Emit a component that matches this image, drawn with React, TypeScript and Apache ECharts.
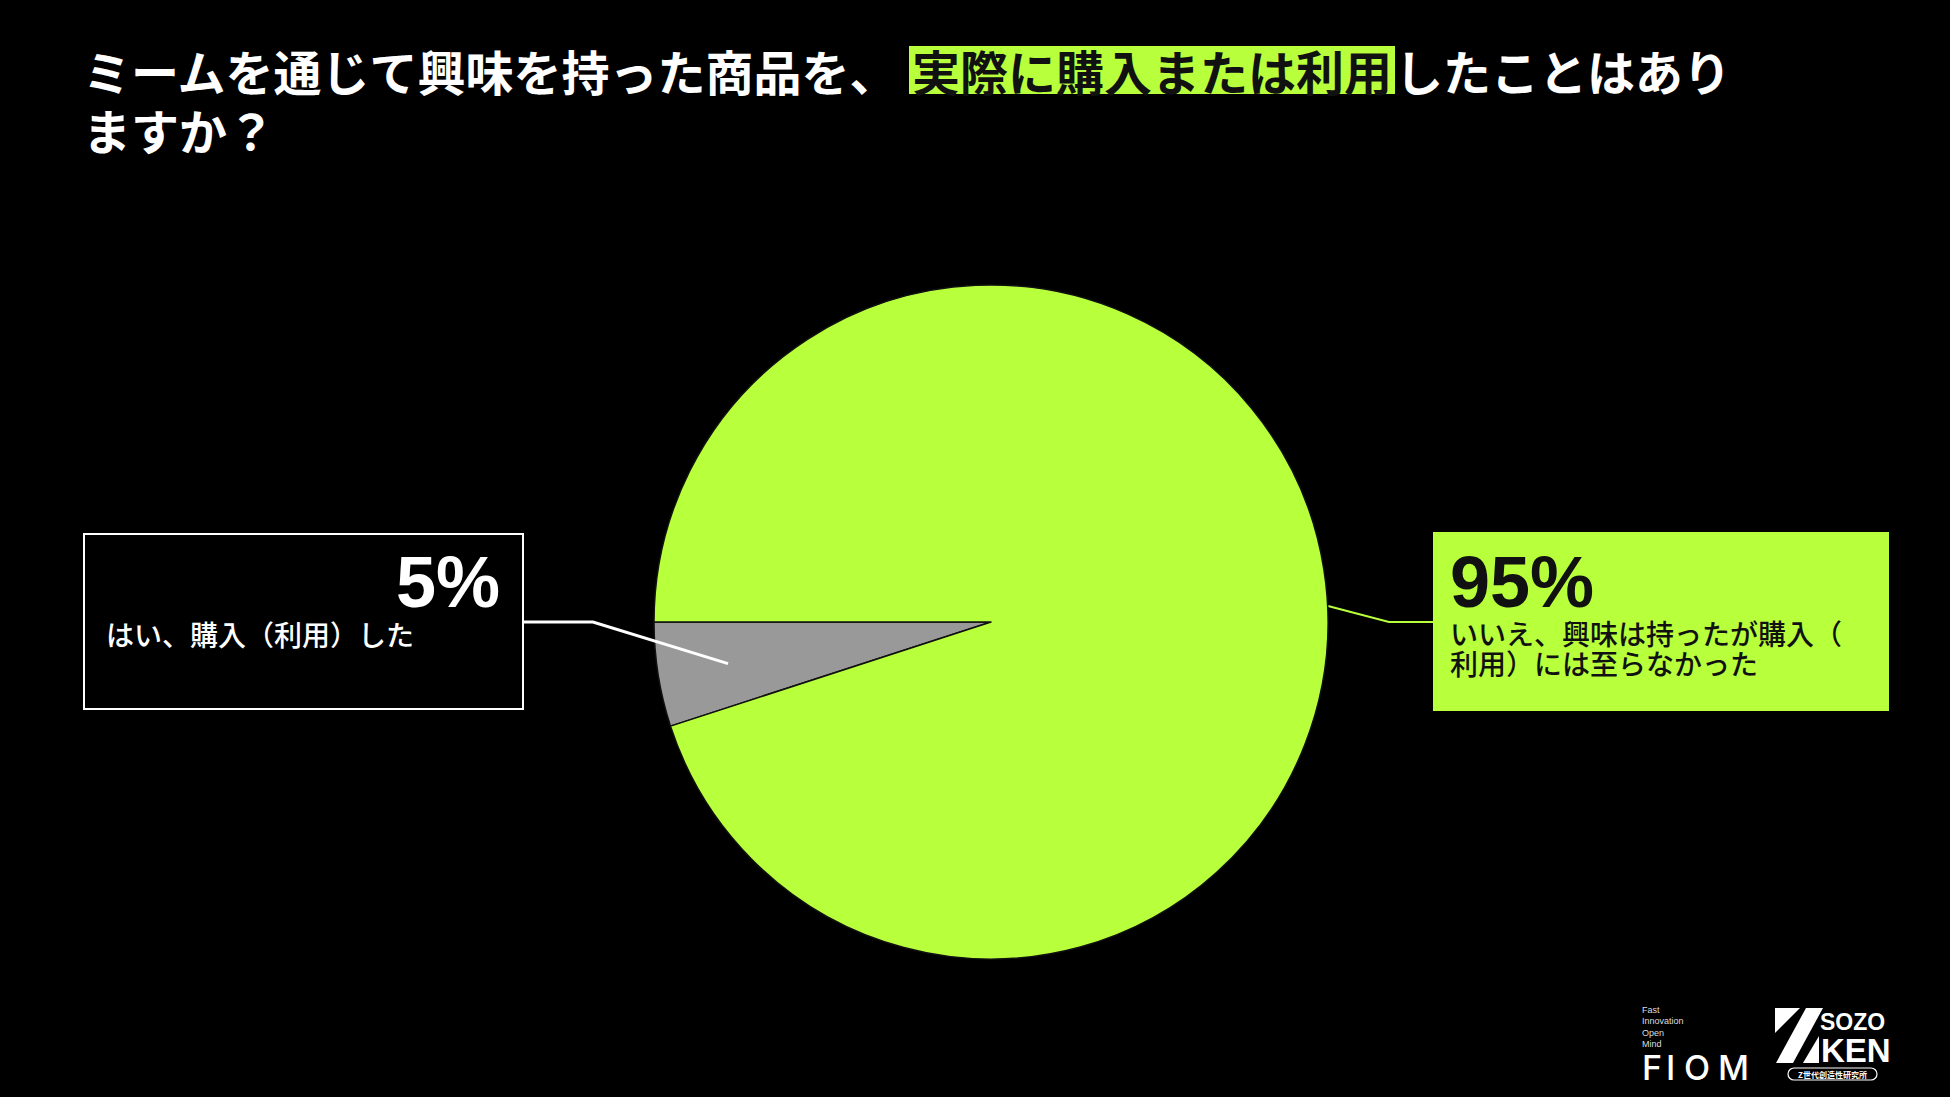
import React, { useEffect, useRef } from 'react';
import * as echarts from 'echarts';

const TITLE_PRE = 'ミームを通じて興味を持った商品を、';
const TITLE_HL = '実際に購入または利用';
const TITLE_POST = 'したことはあり';
const TITLE_L2 = 'ますか？';

const categories = ['はい、購入（利用）した', 'いいえ、興味は持ったが購入（\n利用）には至らなかった'];
const values = [5, 95];
const sliceColors = ['#999999', '#B8FF3C'];

const FIOM_WORDS = ['Fast', 'Innovation', 'Open', 'Mind'];
const FIOM_LETTERS = ['F', 'I', 'O', 'M'];

const GREEN = '#B8FF3C';
const JP = '"Noto Sans CJK JP", "Noto Sans", sans-serif';
const LAT = '"Liberation Sans", Arial, sans-serif';

const CX = 991;
const CY = 622;
const R = 337;
const START = 180;

export default function App() {
  const ref = useRef<HTMLDivElement>(null);
  useEffect(() => {
    if (!ref.current) return;
    const chart = echarts.init(ref.current, undefined, { renderer: 'svg' });

    const total = values.reduce((a, b) => a + b, 0);
    // mid-angle of the first slice (counter-clockwise from START)
    const mid0 = ((START + (values[0] / total) * 180) * Math.PI) / 180;
    const p0: [number, number] = [CX + 0.79 * R * Math.cos(mid0), CY - 0.79 * R * Math.sin(mid0)];

    const fiomX = [1642, 1666, 1684, 1718];
    const graphic: any[] = [];
    graphic.push({
      type: 'polyline', z: 100,
      shape: { points: [p0, [593, CY], [522, CY]] },
      style: { stroke: '#ffffff', lineWidth: 3, fill: 'none' },
    });
    FIOM_WORDS.forEach((w, i) => {
      graphic.push({
        type: 'text', x: 1642, y: 1010 + i * 11.3,
        style: { text: w, fill: '#dddddd', font: `400 9px ${LAT}`, verticalAlign: 'middle', lineHeight: 9 },
      });
    });
    FIOM_LETTERS.forEach((l, i) => {
      graphic.push({
        type: 'text', x: fiomX[i], y: 1067,
        style: { text: l, fill: '#ffffff', font: `500 34px Inter, ${LAT}`, verticalAlign: 'middle', lineHeight: 26 },
      });
    });
    // SOZO KEN logo
    graphic.push({ type: 'polygon', shape: { points: [[1775, 1008], [1800, 1008], [1775, 1033]] }, style: { fill: '#fff' } });
    graphic.push({ type: 'polygon', shape: { points: [[1806, 1008], [1823, 1008], [1793, 1063], [1776, 1063]] }, style: { fill: '#fff' } });
    graphic.push({ type: 'polygon', shape: { points: [[1819, 1036], [1819, 1063], [1803, 1063]] }, style: { fill: '#fff' } });
    graphic.push({ type: 'text', x: 1820, y: 1022, style: { text: 'SOZO', fill: '#fff', font: `700 23px ${LAT}`, verticalAlign: 'middle', lineHeight: 18 } });
    graphic.push({ type: 'text', x: 1821, y: 1050, style: { text: 'KEN', fill: '#fff', font: `700 33px ${LAT}`, verticalAlign: 'middle', lineHeight: 25 } });
    graphic.push({ type: 'rect', shape: { x: 1788, y: 1068, width: 89, height: 12, r: 6 }, style: { fill: '#000', stroke: '#fff', lineWidth: 1.2 } });
    graphic.push({ type: 'text', x: 1832.5, y: 1074, style: { text: 'Z世代創造性研究所', fill: '#fff', font: `700 8px ${JP}`, align: 'center', verticalAlign: 'middle', lineHeight: 8 } });

    const option: any = {
      animation: false,
      backgroundColor: '#000000',
      title: {
        left: 83,
        top: 41,
        padding: 0,
        text: `{w|${TITLE_PRE}}{sp| }{h|${TITLE_HL}}{w|${TITLE_POST}}\n{w2|${TITLE_L2}}`,
        textStyle: {
          rich: {
            w: { color: '#ffffff', fontSize: 48, fontWeight: 700, fontFamily: JP, lineHeight: 58 },
            w2: { color: '#ffffff', fontSize: 48, fontWeight: 700, fontFamily: JP, lineHeight: 60 },
            sp: { width: 10, fontSize: 48, lineHeight: 58 },
            h: {
              color: '#111111', fontSize: 48, fontWeight: 700, fontFamily: JP, lineHeight: 58,
              backgroundColor: GREEN, padding: [0, 3, 0, 3],
            },
          },
        },
      },
      graphic,
      series: [
        {
          type: 'pie',
          center: [CX, CY],
          radius: R,
          startAngle: START,
          clockwise: false,
          avoidLabelOverlap: false,
          silent: true,
          emphasis: { disabled: true },
          itemStyle: { borderColor: '#111111', borderWidth: 1.5 },
          labelLine: { show: true, smooth: false },
          labelLayout: (p: any) => {
            if (p.dataIndex === 0) {
              return { x: 85, y: 535, align: 'left', verticalAlign: 'top' };
            }
            return {
              x: 1433, y: 532, align: 'left', verticalAlign: 'top',
              labelLinePoints: [[1328, 606], [1389, CY], [1433, CY]],
            };
          },
          data: [
            {
              name: categories[0],
              value: values[0],
              itemStyle: { color: sliceColors[0] },
              label: {
                show: true,
                position: 'outside',
                formatter: (p: any) => `{pct|${p.value}%}\n{nm|${p.name}}`,
                width: 394,
                height: 162,
                padding: [11, 22, 0, 21],
                borderColor: '#ffffff',
                borderWidth: 2,
                backgroundColor: '#000000',
                rich: {
                  pct: { color: '#ffffff', fontSize: 72, fontWeight: 700, fontFamily: LAT, lineHeight: 72, align: 'right' },
                  nm: { color: '#ffffff', fontSize: 28, fontWeight: 500, fontFamily: JP, lineHeight: 32, align: 'left' },
                },
              },
              labelLine: { show: false },
            },
            {
              name: categories[1],
              value: values[1],
              itemStyle: { color: sliceColors[1] },
              label: {
                show: true,
                position: 'outside',
                formatter: (p: any) => `{pct|${p.value}%}\n{nm|${p.name}}`,
                width: 429,
                height: 165,
                padding: [14, 10, 0, 17],
                backgroundColor: GREEN,
                rich: {
                  pct: { color: '#111111', fontSize: 72, fontWeight: 700, fontFamily: LAT, lineHeight: 72, align: 'left' },
                  nm: { color: '#111111', fontSize: 28, fontWeight: 500, fontFamily: JP, lineHeight: 30, align: 'left' },
                },
              },
              labelLine: { show: true, smooth: false, lineStyle: { color: GREEN, width: 2 } },
            },
          ],
        },
      ],
    };
    chart.setOption(option);
    return () => chart.dispose();
  }, []);

  return (
    <div
      ref={ref}
      style={{ position: 'fixed', left: 0, top: 0, width: '1950px', height: '1097px', background: '#000' }}
    />
  );
}
